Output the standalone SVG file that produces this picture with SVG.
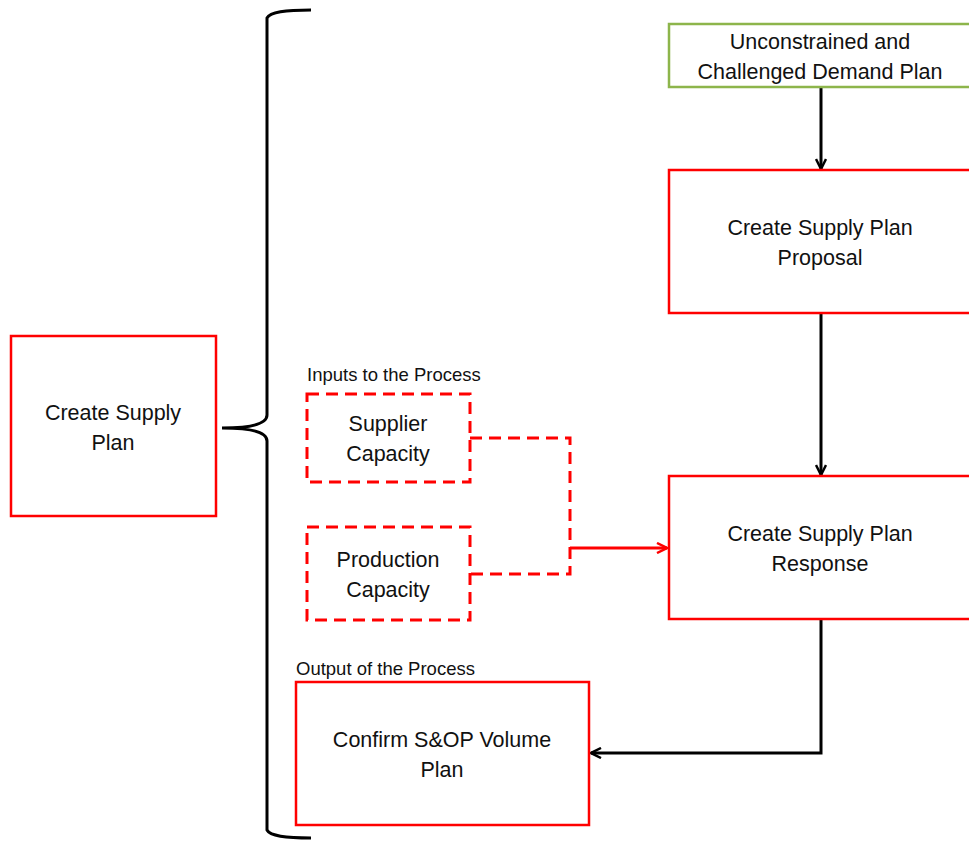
<svg xmlns="http://www.w3.org/2000/svg" width="969" height="843" viewBox="0 0 969 843">
<defs>
<style>
.box{fill:#fff;stroke:#ff0000;stroke-width:2.5}
.green{fill:#fff;stroke:#8db54b;stroke-width:2.5}
.dash{fill:#fff;stroke:#ff0000;stroke-width:3;stroke-dasharray:12,7}
.t{font-family:"Liberation Sans",Arial,sans-serif;font-size:21.5px;fill:#111;text-anchor:middle}
.s{font-family:"Liberation Sans",Arial,sans-serif;font-size:18.5px;fill:#111}
.blk{fill:none;stroke:#000;stroke-width:3}
.red{fill:none;stroke:#ff0000;stroke-width:3}
</style>
<marker id="ab" viewBox="0 0 12 12" refX="11" refY="6" markerWidth="12" markerHeight="12" markerUnits="userSpaceOnUse" orient="auto">
<path d="M1,1 L11,6 L1,11" fill="none" stroke="#000" stroke-width="2.5"/>
</marker>
<marker id="ar" viewBox="0 0 12 12" refX="11" refY="6" markerWidth="12" markerHeight="12" markerUnits="userSpaceOnUse" orient="auto">
<path d="M1,1 L11,6 L1,11" fill="none" stroke="#ff0000" stroke-width="2.5"/>
</marker>
</defs>
<rect width="969" height="843" fill="#fff"/>
<g id="brace">
<path class="blk" d="M311,10 C285,10 270,12 267,18 L267,415 C267,424 250,428 222,428 C250,428 267,432 267,441 L267,830 C270,836 285,838 311,838"/>
</g>
<g id="connectors">
<line class="blk" x1="821" y1="87" x2="821" y2="169" marker-end="url(#ab)"/>
<line class="blk" x1="821" y1="313" x2="821" y2="475" marker-end="url(#ab)"/>
<polyline class="blk" points="821,619 821,753 591,753" marker-end="url(#ab)"/>
<polyline class="red" stroke-dasharray="12,7" points="470,438 570,438 570,574 470,574"/>
<line class="red" x1="570" y1="548" x2="667" y2="548" marker-end="url(#ar)"/>
</g>
<g id="create-supply-plan">
<rect class="box" x="11" y="336" width="205" height="180"/>
<text class="t" x="113" y="420">Create Supply</text>
<text class="t" x="113" y="450">Plan</text>
</g>
<g id="demand-plan">
<rect class="green" x="669" y="24" width="302" height="63"/>
<text class="t" x="820" y="49">Unconstrained and</text>
<text class="t" x="820" y="79">Challenged Demand Plan</text>
</g>
<g id="proposal">
<rect class="box" x="669" y="170" width="302" height="143"/>
<text class="t" x="820" y="235">Create Supply Plan</text>
<text class="t" x="820" y="265">Proposal</text>
</g>
<g id="response">
<rect class="box" x="669" y="476" width="302" height="143"/>
<text class="t" x="820" y="541">Create Supply Plan</text>
<text class="t" x="820" y="571">Response</text>
</g>
<g id="inputs-label">
<text class="s" x="307" y="381">Inputs to the Process</text>
</g>
<g id="supplier-capacity">
<rect class="dash" x="307" y="394" width="163" height="88"/>
<text class="t" x="388" y="431">Supplier</text>
<text class="t" x="388" y="461">Capacity</text>
</g>
<g id="production-capacity">
<rect class="dash" x="307" y="527" width="163" height="93"/>
<text class="t" x="388" y="567">Production</text>
<text class="t" x="388" y="597">Capacity</text>
</g>
<g id="output-label">
<text class="s" x="296" y="675">Output of the Process</text>
</g>
<g id="confirm">
<rect class="box" x="296" y="682" width="293" height="143"/>
<text class="t" x="442" y="747">Confirm S&amp;OP Volume</text>
<text class="t" x="442" y="777">Plan</text>
</g>
</svg>
